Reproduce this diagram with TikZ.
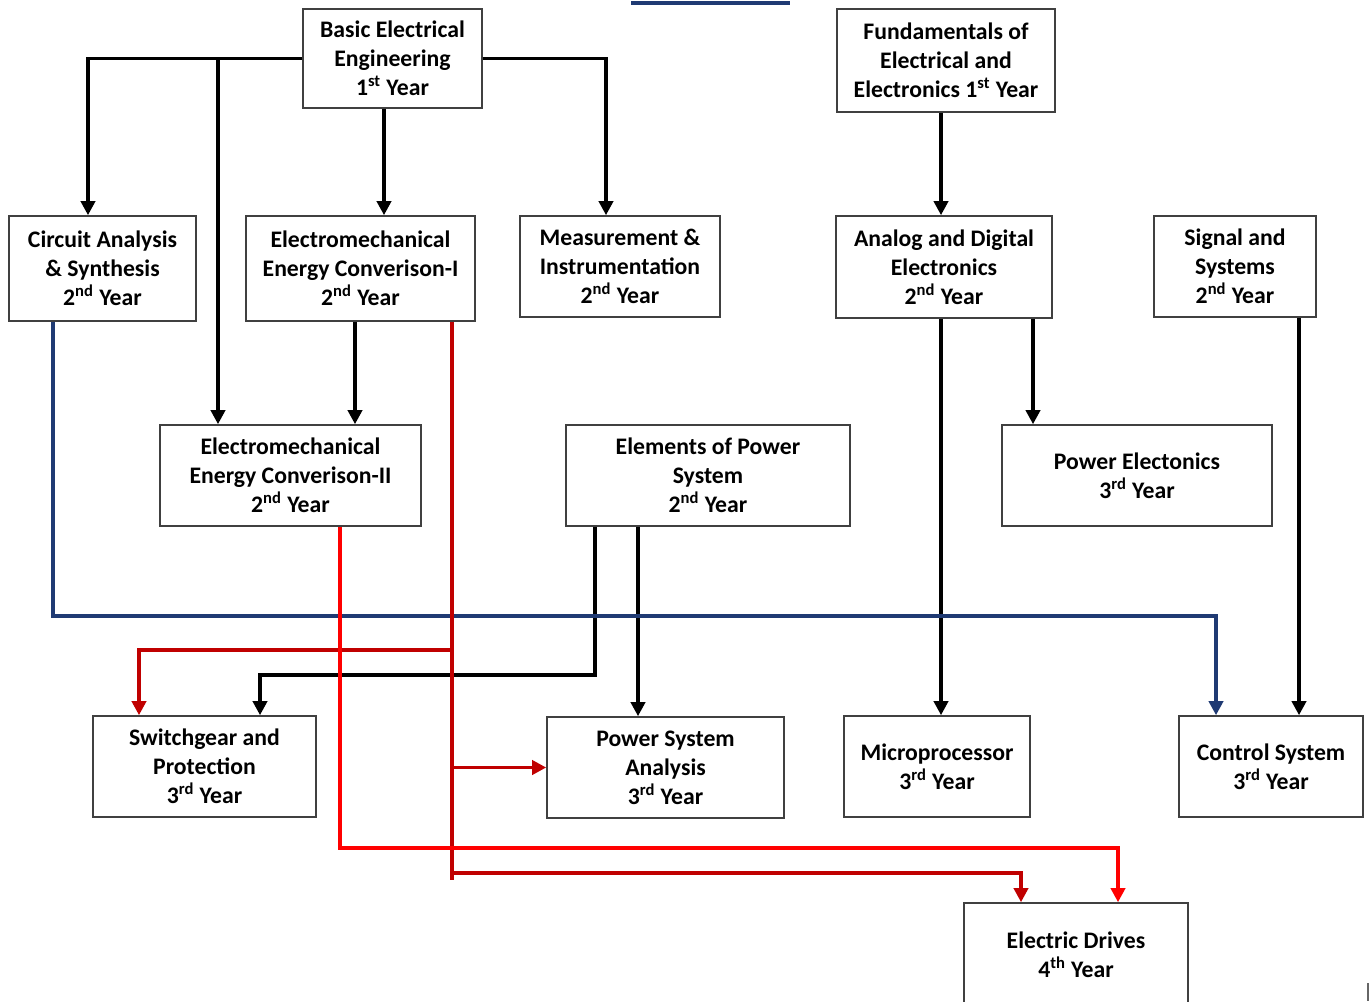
\documentclass[tikz,border=0pt]{standalone}
\usepackage{fontspec}
\setmainfont{Carlito}
\usetikzlibrary{arrows.meta}
\definecolor{drkred}{HTML}{C00000}
\definecolor{brtred}{HTML}{FF0000}
\definecolor{navy}{HTML}{1F3A73}

\begin{document}
\begin{tikzpicture}[x=0.02cm, y=-0.02cm,
    every node/.style={draw=black!75, line width=0.9pt, align=center, inner sep=2pt,
        font=\bfseries\fontsize{13.5}{16.5}\selectfont},
    conn/.style={line width=2.2pt, -{Triangle[width=8pt,length=8pt]}}]

    \clip (0,0) rectangle (1371,1001);

    % Heading (cut off)
    \draw[navy, line width=2pt] (631,3) -- (790,3);

    % 1st year
    \node[minimum width=3.58cm, minimum height=1.98cm] (bee) at (392.5,58.5) {Basic Electrical\\Engineering\\1\textsuperscript{st} Year};
    \node[minimum width=4.36cm, minimum height=2.06cm] (feee) at (946,60.5) {Fundamentals of\\Electrical and\\Electronics 1\textsuperscript{st} Year};

    % 2nd year, top row
    \node[minimum width=3.74cm, minimum height=2.10cm] (cas) at (102.5,268.5) {Circuit Analysis\\\& Synthesis\\2\textsuperscript{nd} Year};
    \node[minimum width=4.58cm, minimum height=2.10cm] (emec1) at (360.5,268.5) {Electromechanical\\Energy Converison-I\\2\textsuperscript{nd} Year};
    \node[minimum width=4.00cm, minimum height=2.02cm] (mi) at (620,266.5) {Measurement \&\\Instrumentation\\2\textsuperscript{nd} Year};
    \node[minimum width=4.32cm, minimum height=2.04cm] (ade) at (944,267) {Analog and Digital\\Electronics\\2\textsuperscript{nd} Year};
    \node[minimum width=3.24cm, minimum height=2.02cm] (ss) at (1235,266.5) {Signal and\\Systems\\2\textsuperscript{nd} Year};

    % Middle row
    \node[minimum width=5.22cm, minimum height=2.02cm] (emec2) at (290.5,475.5) {Electromechanical\\Energy Converison-II\\2\textsuperscript{nd} Year};
    \node[minimum width=5.68cm, minimum height=2.02cm] (eps) at (708,475.5) {Elements of Power\\System\\2\textsuperscript{nd} Year};
    \node[minimum width=5.40cm, minimum height=2.02cm] (pe) at (1137,475.5) {Power Electonics\\3\textsuperscript{rd} Year};

    % 3rd year
    \node[minimum width=4.46cm, minimum height=2.02cm] (sp) at (204.5,766.5) {Switchgear and\\Protection\\3\textsuperscript{rd} Year};
    \node[minimum width=4.74cm, minimum height=2.02cm] (psa) at (665.5,767.5) {Power System\\Analysis\\3\textsuperscript{rd} Year};
    \node[minimum width=3.72cm, minimum height=2.02cm] (mp) at (937,766.5) {Microprocessor\\3\textsuperscript{rd} Year};
    \node[minimum width=3.68cm, minimum height=2.02cm] (cs) at (1271,766.5) {Control System\\3\textsuperscript{rd} Year};

    % 4th year
    \node[minimum width=4.48cm, minimum height=2.06cm] (ed) at (1076,954.5) {Electric Drives\\4\textsuperscript{th} Year};

    % Black edges
    \draw[conn] (bee.west) -- (88,0 |- bee.west) -- (88,0 |- cas.north);
    \draw[conn] (218,0 |- bee.west) -- (218,0 |- emec2.north);
    \draw[conn] (384,0 |- bee.south) -- (384,0 |- emec1.north);
    \draw[conn] (bee.east) -- (606,0 |- bee.east) -- (606,0 |- mi.north);
    \draw[conn] (941,0 |- feee.south) -- (941,0 |- ade.north);
    \draw[conn] (355,0 |- emec1.south) -- (355,0 |- emec2.north);
    \draw[conn] (941,0 |- ade.south) -- (941,0 |- mp.north);
    \draw[conn] (1033,0 |- ade.south) -- (1033,0 |- pe.north);
    \draw[conn] (1299,0 |- ss.south) -- (1299,0 |- cs.north);
    \draw[conn] (595,0 |- eps.south) -- (595,675) -- (260,675) -- (260,0 |- sp.north);
    \draw[conn] (638,0 |- eps.south) -- (638,0 |- psa.north);

    % Blue edge
    \draw[conn, navy] (53,0 |- cas.south) -- (53,616) -- (1216,616) -- (1216,0 |- cs.north);

    % Red edges
    \draw[conn, drkred, -] (452,0 |- emec1.south) -- (452,880);
    \draw[conn, drkred] (452,650) -- (139,650) -- (139,0 |- sp.north);
    \draw[conn, drkred] (452,0 |- psa.west) -- (psa.west);
    \draw[conn, drkred] (452,873) -- (1021,873) -- (1021,0 |- ed.north);
    \draw[conn, brtred] (340,0 |- emec2.south) -- (340,848) -- (1118,848) -- (1118,0 |- ed.north);

    % Page mark
    \draw[black!60, line width=1pt] (1368,983) -- (1368,1001);

\end{tikzpicture}
\end{document}
